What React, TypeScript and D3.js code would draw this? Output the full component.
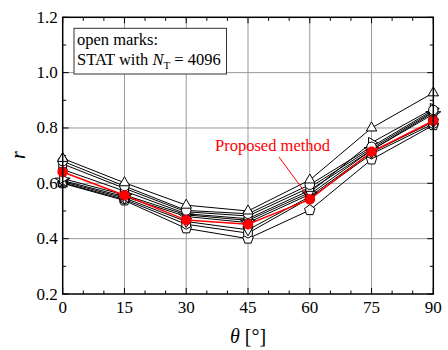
import React from "react";
import * as d3 from "d3";

const thetas = [0, 15, 30, 45, 60, 75, 90];
const xTicks = [0, 15, 30, 45, 60, 75, 90];
const yTicks = [0.2, 0.4, 0.6, 0.8, 1.0, 1.2];

const statTriUp = [0.69, 0.602, 0.521, 0.5, 0.612, 0.8, 0.927];
const statCircle = [0.68, 0.59, 0.502, 0.49, 0.595, 0.732, 0.865];
const statSquare = [0.67, 0.582, 0.497, 0.482, 0.585, 0.726, 0.86];
const statDiamond = [0.65, 0.572, 0.49, 0.472, 0.575, 0.72, 0.856];
const statTriRight = [0.617, 0.558, 0.486, 0.466, 0.567, 0.747, 0.87];
const statStar = [0.61, 0.552, 0.48, 0.458, 0.56, 0.72, 0.85];
const statTriDown = [0.606, 0.547, 0.462, 0.432, 0.552, 0.712, 0.822];
const statHexagon = [0.602, 0.542, 0.452, 0.42, 0.546, 0.706, 0.815];
const statPentagon = [0.6, 0.538, 0.437, 0.4, 0.503, 0.686, 0.81];
const proposed = [0.641, 0.557, 0.467, 0.452, 0.542, 0.714, 0.826];

const polygon = (n: number, r: number, rot: number) => {
  const pts: string[] = [];
  for (let i = 0; i < n; i++) {
    const a = rot + (i * 2 * Math.PI) / n;
    pts.push(`${(r * Math.sin(a)).toFixed(2)},${(-r * Math.cos(a)).toFixed(2)}`);
  }
  return "M" + pts.join("L") + "Z";
};

const markerPaths: Record<string, string> = {
  triUp: polygon(3, 6, 0),
  triDown: polygon(3, 6, Math.PI),
  triRight: polygon(3, 6, Math.PI / 2),
  circle: d3.symbol(d3.symbolCircle, 70)() as string,
  square: d3.symbol(d3.symbolSquare, 60)() as string,
  diamond: d3.symbol(d3.symbolDiamond, 70)() as string,
  star: d3.symbol(d3.symbolStar, 70)() as string,
  hexagon: polygon(6, 5, 0),
  pentagon: polygon(5, 5.5, 0),
};

const series = [
  { values: statPentagon, marker: "pentagon" },
  { values: statHexagon, marker: "hexagon" },
  { values: statTriDown, marker: "triDown" },
  { values: statStar, marker: "star" },
  { values: statTriRight, marker: "triRight" },
  { values: statDiamond, marker: "diamond" },
  { values: statSquare, marker: "square" },
  { values: statCircle, marker: "circle" },
  { values: statTriUp, marker: "triUp" },
];

export default function App() {
  const W = 448, H = 350;
  const left = 62.7, right = 433.3, top = 17.3, bottom = 294;
  const x = d3.scaleLinear().domain([0, 90]).range([left, right]);
  const y = d3.scaleLinear().domain([0.2, 1.2]).range([bottom, top]);
  const line = d3
    .line<number>()
    .x((_, i) => x(thetas[i]))
    .y((d) => y(d));
  const xMinor = d3.range(0, 91, 5).filter((v) => v % 15 !== 0);
  const yMinor = d3.range(0.3, 1.2, 0.2);
  const font = "'Liberation Serif', 'Times New Roman', serif";
  const grid = "#999999";

  return (
    <svg
      width={W}
      height={H}
      style={{ position: "absolute", left: 0, top: 0, background: "#fff" }}
      fontFamily={font}
    >
      {/* grid */}
      {xTicks.slice(1, -1).map((t) => (
        <line key={"gx" + t} x1={x(t)} x2={x(t)} y1={top} y2={bottom} stroke={grid} strokeWidth={1} />
      ))}
      {yTicks.slice(1, -1).map((t) => (
        <line key={"gy" + t} x1={left} x2={right} y1={y(t)} y2={y(t)} stroke={grid} strokeWidth={1} />
      ))}
      {/* ticks */}
      {xTicks.map((t) => (
        <g key={"tx" + t}>
          <line x1={x(t)} x2={x(t)} y1={bottom} y2={bottom - 6} stroke="#000" />
          <line x1={x(t)} x2={x(t)} y1={top} y2={top + 6} stroke="#000" />
        </g>
      ))}
      {xMinor.map((t) => (
        <g key={"mx" + t}>
          <line x1={x(t)} x2={x(t)} y1={bottom} y2={bottom - 3.5} stroke="#000" />
          <line x1={x(t)} x2={x(t)} y1={top} y2={top + 3.5} stroke="#000" />
        </g>
      ))}
      {yTicks.map((t) => (
        <g key={"ty" + t}>
          <line x1={left} x2={left + 6} y1={y(t)} y2={y(t)} stroke="#000" />
          <line x1={right} x2={right - 6} y1={y(t)} y2={y(t)} stroke="#000" />
        </g>
      ))}
      {yMinor.map((t) => (
        <g key={"my" + t}>
          <line x1={left} x2={left + 3.5} y1={y(t)} y2={y(t)} stroke="#000" />
          <line x1={right} x2={right - 3.5} y1={y(t)} y2={y(t)} stroke="#000" />
        </g>
      ))}
      {/* tick labels */}
      {xTicks.map((t) => (
        <text key={"lx" + t} x={x(t)} y={bottom + 18.5} fontSize={17} textAnchor="middle">
          {t}
        </text>
      ))}
      {yTicks.map((t) => (
        <text key={"ly" + t} x={left - 5} y={y(t) + 5.5} fontSize={17} textAnchor="end">
          {t.toFixed(1)}
        </text>
      ))}
      {/* series */}
      {series.map((s, si) => (
        <g key={"s" + si}>
          <path d={line(s.values) as string} fill="none" stroke="#000" strokeWidth={1} />
          {s.values.map((v, i) => (
            <path
              key={i}
              d={markerPaths[s.marker]}
              transform={`translate(${x(thetas[i])},${y(v)})`}
              fill="#fff"
              stroke="#000"
              strokeWidth={1}
            />
          ))}
        </g>
      ))}
      <g>
        <path d={line(proposed) as string} fill="none" stroke="#ff0000" strokeWidth={1.5} />
        {proposed.map((v, i) => (
          <circle key={i} cx={x(thetas[i])} cy={y(v)} r={5} fill="#ff0000" stroke="#cc0000" strokeWidth={0.5} />
        ))}
      </g>
      {/* frame */}
      <rect x={left} y={top} width={right - left} height={bottom - top} fill="none" stroke="#000" strokeWidth={1.5} />
      {/* legend box */}
      <rect x={74} y={28.3} width={152.5} height={45.7} fill="#fff" stroke="#333" strokeWidth={1} />
      <text x={77} y={45} fontSize={16.5}>open marks:</text>
      <text x={77} y={65} fontSize={16.5}>
        STAT with <tspan fontStyle="italic">N</tspan>
        <tspan fontSize={11} dy={4}>T</tspan>
        <tspan dy={-4}> = 4096</tspan>
      </text>
      {/* annotation */}
      <text x={215} y={151} fontSize={16.5} fill="#ff0000">Proposed method</text>
      <line x1={279} y1={157} x2={307} y2={195} stroke="#ff0000" strokeWidth={1} />
      {/* axis titles */}
      <text x={248} y={343} fontSize={20} textAnchor="middle">
        <tspan fontStyle="italic">θ</tspan> [°]
      </text>
      <text transform="translate(25,155) rotate(-90)" fontSize={20} fontStyle="italic" textAnchor="middle">
        r
      </text>
    </svg>
  );
}
